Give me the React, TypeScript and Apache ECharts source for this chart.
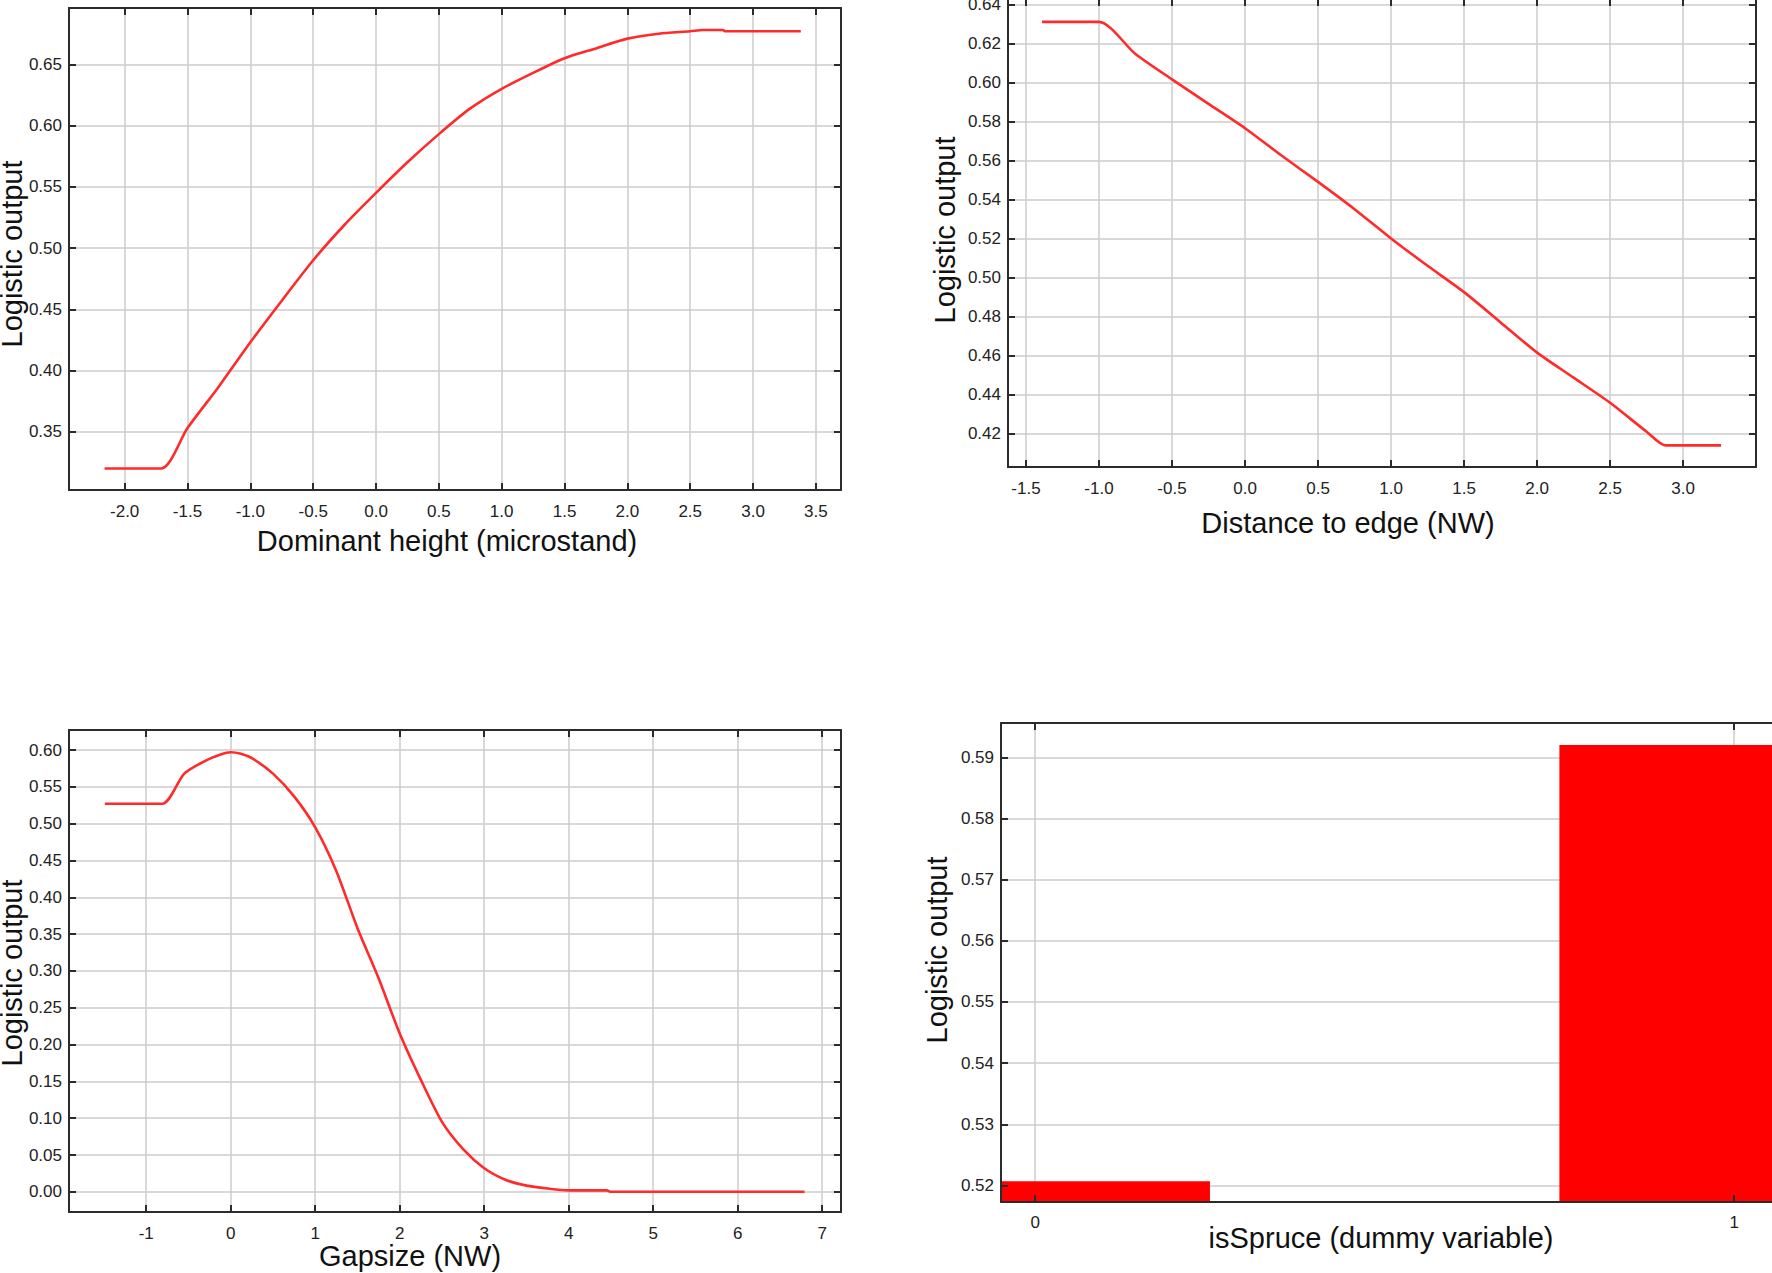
import React, { useEffect, useRef } from "react";
import * as echarts from "echarts";

// ---- Panel 1: Dominant height (microstand)
const DH_X = [-2.16, -1.71, -1.5, -1.25, -1.0, -0.75, -0.5, -0.25, 0, 0.25, 0.5, 0.75, 1.0, 1.25, 1.5, 1.75, 2.0, 2.25, 2.5, 2.6, 2.76, 2.78, 3.38];
const DH_Y = [0.32, 0.32, 0.353, 0.387, 0.423, 0.457, 0.49, 0.519, 0.545, 0.57, 0.593, 0.614, 0.63, 0.643, 0.655, 0.663, 0.671, 0.675, 0.677, 0.678, 0.678, 0.677, 0.677];

// ---- Panel 2: Distance to edge (NW)
const DE_X = [-1.39, -1.0, -0.75, -0.5, -0.25, 0, 0.25, 0.5, 0.75, 1.0, 1.25, 1.5, 1.75, 2.0, 2.25, 2.5, 2.75, 2.88, 3.26];
const DE_Y = [0.631, 0.631, 0.6145, 0.6015, 0.589, 0.5765, 0.5625, 0.549, 0.535, 0.52, 0.506, 0.4925, 0.477, 0.4615, 0.4487, 0.4358, 0.421, 0.414, 0.414];

// ---- Panel 3: Gapsize (NW)
const GS_X = [-1.49, -0.81, -0.55, -0.29, -0.12, 0, 0.12, 0.25, 0.5, 0.75, 1.0, 1.25, 1.5, 1.75, 2.0, 2.25, 2.5, 2.75, 3.0, 3.25, 3.5, 3.75, 4.0, 4.45, 4.5, 6.79];
const GS_Y = [0.527, 0.527, 0.568, 0.586, 0.594, 0.597, 0.595, 0.589, 0.568, 0.537, 0.495, 0.4355, 0.358, 0.29, 0.215, 0.152, 0.095, 0.058, 0.032, 0.0164, 0.0084, 0.0045, 0.002, 0.002, 0.0, 0.0];

// ---- Panel 4: isSpruce (dummy variable)
const SP_CATS = [0, 1];
const SP_VALUES = [0.5207, 0.592];

// axis titles
const Y_TITLE = "Logistic output";
const X_TITLES = ["Dominant height (microstand)", "Distance to edge (NW)", "Gapsize (NW)", "isSpruce (dummy variable)"];

const FONT = '"Liberation Sans", Arial, sans-serif';
const DARK = "#2b2b2b";
const GRIDC = "#cdcdcd";
const RED = "#ff2a2a";

type AxisCfg = { min: number; max: number; interval: number; dec: number };

function axisPair(kind: "x" | "y", grid: number, cfg: AxisCfg, margin: number) {
  const base: any = {
    type: "value",
    gridIndex: grid,
    min: cfg.min,
    max: cfg.max,
    minInterval: cfg.interval,
    maxInterval: cfg.interval,
    splitNumber: 20,
    axisLine: { show: true, onZero: false, lineStyle: { color: DARK, width: 2 } },
    axisTick: { show: true, inside: true, length: 7, lineStyle: { color: DARK, width: 2 } },
  };
  // main axis: labels, ticks and frame line drawn above the marks
  const main: any = {
    ...base,
    position: kind === "x" ? "bottom" : "left",
    axisLabel: {
      show: true,
      showMinLabel: false,
      showMaxLabel: false,
      margin,
      color: "#222",
      fontSize: 17,
      fontFamily: FONT,
      formatter: (v: number) => v.toFixed(cfg.dec),
    },
    splitLine: { show: false },
    z: 5,
  };
  // opposite axis: ticks, frame line and grid lines drawn under the marks
  const opp: any = {
    ...base,
    position: kind === "x" ? "top" : "right",
    axisLabel: { show: false },
    splitLine: { show: true, lineStyle: { color: GRIDC, width: 1.5 } },
    z: 1,
  };
  return [main, opp];
}

const PANELS = [
  { grid: { left: 69, top: 8, width: 772, height: 482 }, x: { min: -2.443, max: 3.7, interval: 0.5, dec: 1 }, y: { min: 0.3024, max: 0.696, interval: 0.05, dec: 2 } },
  { grid: { left: 1008, top: -1, width: 748, height: 468 }, x: { min: -1.623, max: 3.499, interval: 0.5, dec: 1 }, y: { min: 0.4029, max: 0.6427, interval: 0.02, dec: 2 } },
  { grid: { left: 69, top: 730, width: 772, height: 482 }, x: { min: -1.914, max: 7.222, interval: 1, dec: 0 }, y: { min: -0.0274, max: 0.6272, interval: 0.05, dec: 2 } },
  { grid: { left: 1001, top: 723, width: 803, height: 479 }, x: { min: -0.049, max: 1.1, interval: 1, dec: 0 }, y: { min: 0.5173, max: 0.5956, interval: 0.01, dec: 2 } },
];

const Y_TITLE_POS = [[12, 254], [945, 230], [12, 973], [937, 950]];
const X_TITLE_POS = [[447, 541], [1348, 523], [410, 1256], [1381, 1238]];

export default function App() {
  const ref = useRef<HTMLDivElement>(null);
  useEffect(() => {
    document.body.style.margin = "0";
    if (!ref.current) return;
    const chart = echarts.init(ref.current, undefined, { renderer: "svg" });

    const grids = PANELS.map((p) => ({ ...p.grid, show: false, containLabel: false, outerBoundsMode: "none" }));
    const xAxis: any[] = [];
    const yAxis: any[] = [];
    PANELS.forEach((p, i) => {
      xAxis.push(...axisPair("x", i, p.x, i === 3 ? 12 : 13));
      yAxis.push(...axisPair("y", i, p.y, 7));
    });

    const lineSeries = [
      [DH_X, DH_Y],
      [DE_X, DE_Y],
      [GS_X, GS_Y],
    ].map(([xs, ys], i) => ({
      type: "line",
      xAxisIndex: i * 2,
      yAxisIndex: i * 2,
      data: xs.map((x, k) => [x, ys[k]]),
      showSymbol: false,
      smooth: 0.25,
      lineStyle: { color: RED, width: 2.6, join: "round" },
      z: 3,
    }));

    const barBase = PANELS[3].y.min;
    const barSeries = {
      type: "custom",
      coordinateSystem: "cartesian2d",
      xAxisIndex: 6,
      yAxisIndex: 6,
      encode: { x: 0, y: 1 },
      clip: true,
      data: SP_CATS.map((c, k) => [c, SP_VALUES[k]]),
      renderItem: (_params: any, api: any) => {
        const c = api.value(0);
        const v = api.value(1);
        // each bar reaches 0.25 toward the middle of the axis and ~0.06 away from it
        const dir = c < 0.5 ? 1 : -1;
        const pa = api.coord([c - dir * 0.06, v]);
        const pb = api.coord([c + dir * 0.25, barBase]);
        const x0 = Math.min(pa[0], pb[0]);
        const x1 = Math.max(pa[0], pb[0]);
        return {
          type: "rect",
          shape: { x: x0, y: pa[1], width: x1 - x0, height: pb[1] - pa[1] },
          style: { fill: "#ff0000" },
        };
      },
      z: 3,
    };

    const textStyle = (text: string) => ({
      text,
      fontSize: 29,
      fontFamily: FONT,
      fill: "#111",
      align: "center",
      verticalAlign: "middle",
      textAlign: "center",
      textVerticalAlign: "middle",
    });

    const graphic: any[] = [];
    Y_TITLE_POS.forEach(([x, y]) => {
      graphic.push({ type: "text", x, y, rotation: Math.PI / 2, style: textStyle(Y_TITLE), z: 10 });
    });
    X_TITLE_POS.forEach(([x, y], i) => {
      graphic.push({ type: "text", x, y, style: textStyle(X_TITLES[i]), z: 10 });
    });

    chart.setOption({
      animation: false,
      backgroundColor: "#ffffff",
      grid: grids,
      xAxis,
      yAxis,
      series: [...lineSeries, barSeries],
      graphic,
    });
    return () => chart.dispose();
  }, []);

  return (
    <div
      ref={ref}
      style={{ position: "absolute", left: 0, top: 0, width: 1772, height: 1273, background: "#fff", overflow: "hidden" }}
    />
  );
}
